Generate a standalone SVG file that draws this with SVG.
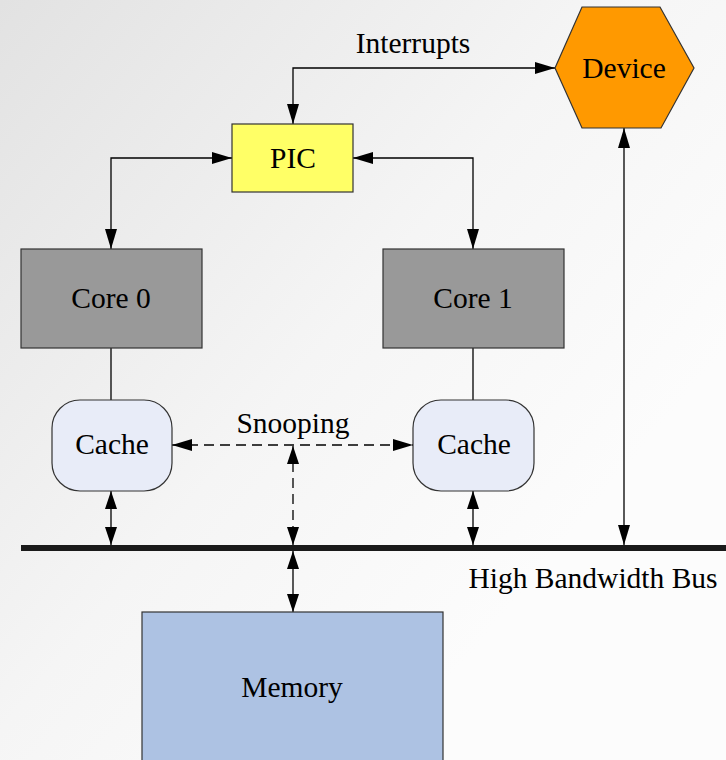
<svg xmlns="http://www.w3.org/2000/svg" width="726" height="760" viewBox="0 0 726 760">
  <defs>
    <linearGradient id="bg" gradientUnits="userSpaceOnUse" x1="0" y1="0" x2="600" y2="500">
      <stop offset="0" stop-color="#e2e2e2"/>
      <stop offset="0.6" stop-color="#f5f5f5"/>
      <stop offset="1" stop-color="#fcfcfc"/>
    </linearGradient>
    <marker id="ah" viewBox="0 0 20 12" refX="20" refY="6" markerWidth="20" markerHeight="12" markerUnits="userSpaceOnUse" orient="auto-start-reverse">
      <path d="M0,0 L20,6 L0,12 Z" fill="#000"/>
    </marker>
    <marker id="ahs" viewBox="0 0 18 12" refX="18" refY="6" markerWidth="18" markerHeight="12" markerUnits="userSpaceOnUse" orient="auto-start-reverse">
      <path d="M0,0 L18,6 L0,12 Z" fill="#000"/>
    </marker>
  </defs>
  <style>
    .lbl { font-family: "Liberation Serif", "Times New Roman", serif; font-size: 29.5px; fill: #000; text-anchor: middle; }
    .box { stroke: #333; stroke-width: 1.2; }
    .edge { fill: none; stroke: #000; stroke-width: 1.3; }
    .both { marker-start: url(#ah); marker-end: url(#ah); }
    .bothS { marker-start: url(#ahs); marker-end: url(#ahs); }
    .dash { stroke-dasharray: 10 6; }
  </style>

  <rect x="0" y="0" width="726" height="760" fill="url(#bg)"/>

  <g id="connectors">
    <!-- interrupt path between PIC and device -->
    <path class="edge both" d="M293,124 V68 H555"/>
    <!-- PIC to cores -->
    <path class="edge both" d="M232,158 H111 V249"/>
    <path class="edge both" d="M353,158 H473 V249"/>
    <!-- device to bus -->
    <path class="edge both" d="M624,128 V545"/>
    <!-- cores to caches -->
    <path class="edge" d="M111,348 V400"/>
    <path class="edge" d="M473,348 V400"/>
    <!-- caches to bus -->
    <path class="edge bothS" d="M111,491 V545"/>
    <path class="edge bothS" d="M473,491 V545"/>
    <!-- snooping -->
    <path class="edge dash both" d="M172,445 H413"/>
    <path class="edge dash bothS" d="M293,446 V545"/>
    <!-- bus to memory -->
    <path class="edge bothS" d="M293,551 V612"/>
    <text class="lbl" x="413" y="53">Interrupts</text>
    <text class="lbl" x="293" y="433">Snooping</text>
  </g>

  <g id="bus">
    <line x1="21" y1="548" x2="726" y2="548" stroke="#1a1a1a" stroke-width="6"/>
    <text class="lbl" x="593" y="588">High Bandwidth Bus</text>
  </g>

  <g id="device">
    <polygon class="box" points="555,68 582,7 660,7 694,68 661,128 582,128" fill="#ff9900"/>
    <text class="lbl" x="624" y="78">Device</text>
  </g>

  <g id="pic">
    <rect class="box" x="232" y="124" width="121" height="68" fill="#ffff66"/>
    <text class="lbl" x="293" y="168">PIC</text>
  </g>

  <g id="core0">
    <rect class="box" x="21" y="249" width="181" height="99" fill="#999999"/>
    <text class="lbl" x="111" y="308">Core 0</text>
  </g>

  <g id="core1">
    <rect class="box" x="383" y="249" width="181" height="99" fill="#999999"/>
    <text class="lbl" x="473" y="308">Core 1</text>
  </g>

  <g id="cache0">
    <rect class="box" x="52" y="400" width="120" height="91" rx="28" ry="28" fill="#e8ecf8"/>
    <text class="lbl" x="112" y="454">Cache</text>
  </g>

  <g id="cache1">
    <rect class="box" x="413" y="400" width="121" height="91" rx="28" ry="28" fill="#e8ecf8"/>
    <text class="lbl" x="474" y="454">Cache</text>
  </g>

  <g id="memory">
    <rect class="box" x="142" y="612" width="301" height="160" fill="#adc2e3"/>
    <text class="lbl" x="292" y="697">Memory</text>
  </g>
</svg>
